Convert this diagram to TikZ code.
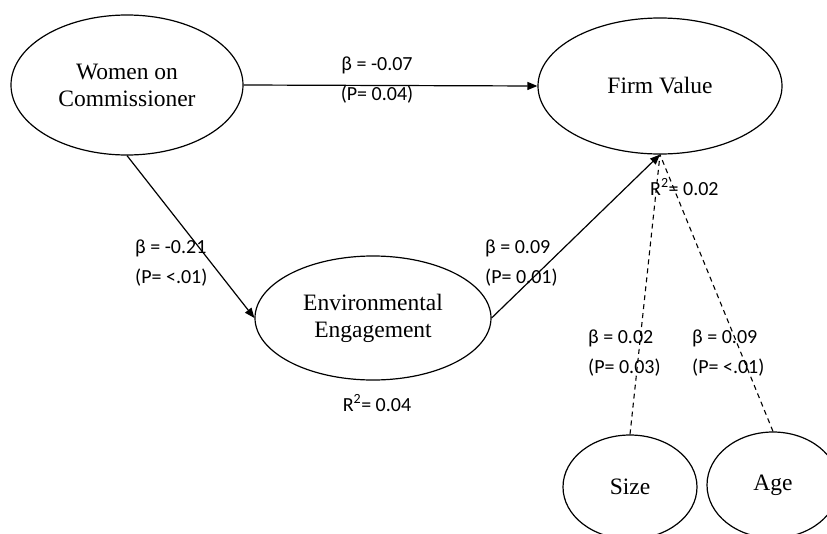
\documentclass[tikz,border=0pt]{standalone}
\usepackage{fontspec}
\setmainfont{Liberation Serif}
\newfontfamily\labfont{Carlito}
\usetikzlibrary{shapes.geometric,arrows.meta}
\tikzset{
  latent/.style={ellipse,draw,line width=1.2pt,inner sep=0pt,font=\fontsize{23.5}{27}\selectfont,align=center},
  path/.style={line width=1.2pt,-{Triangle[length=10pt,width=8pt]}},
  ctrl/.style={line width=1.1pt,dashed,dash pattern=on 5pt off 4pt},
  lab/.style={font=\labfont\fontsize{20}{23}\selectfont,text=black,inner sep=0pt}
}
\begin{document}
\begin{tikzpicture}[x=1pt,y=-1pt]
\useasboundingbox (0,0) rectangle (827,533);
\clip (0,0) rectangle (827,533);
\node[latent,minimum width=232pt,minimum height=140pt] (wc) at (127,85) {Women on\\Commissioner};
\node[latent,minimum width=244pt,minimum height=136pt] (fv) at (660,86) {Firm Value};
\node[latent,minimum width=236pt,minimum height=124pt] (env) at (373,318) {Environmental\\Engagement};
\node[latent,minimum width=134pt,minimum height=104pt] (size) at (630,487) {Size};
\node[latent,minimum width=132pt,minimum height=106pt] (age) at (773,485) {Age};

\draw[path] (wc.east) -- (fv.west);
\draw[path] (wc.south) -- (env.west);
\draw[path] (env.east) -- (fv.south);
\draw[ctrl] (size.north) -- (fv.south);
\draw[ctrl] (age.north) -- (fv.south);

\node[lab] (l1a) at (377,65) {β = -0.07};
\node[lab] (l1b) at (377,95) {(P= 0.04)};
\node[lab,anchor=west] (l2a) at (135,248) {β = -0.21};
\node[lab,anchor=west] (l2b) at (135,278) {(P= <.01)};
\node[lab,anchor=west] (l3a) at (485,248) {β = 0.09};
\node[lab,anchor=west] (l3b) at (485,278) {(P= 0.01)};
\node[lab,anchor=west] (r1) at (650,187) {R\textsuperscript{2}= 0.02};
\node[lab] (r2) at (377,403) {R\textsuperscript{2}= 0.04};
\node[lab,anchor=west] (l4a) at (588,338) {β = 0.02};
\node[lab,anchor=west] (l4b) at (588,368) {(P= 0.03)};
\node[lab,anchor=west] (l5a) at (692,338) {β = 0.09};
\node[lab,anchor=west] (l5b) at (692,368) {(P= <.01)};
\end{tikzpicture}
\end{document}
